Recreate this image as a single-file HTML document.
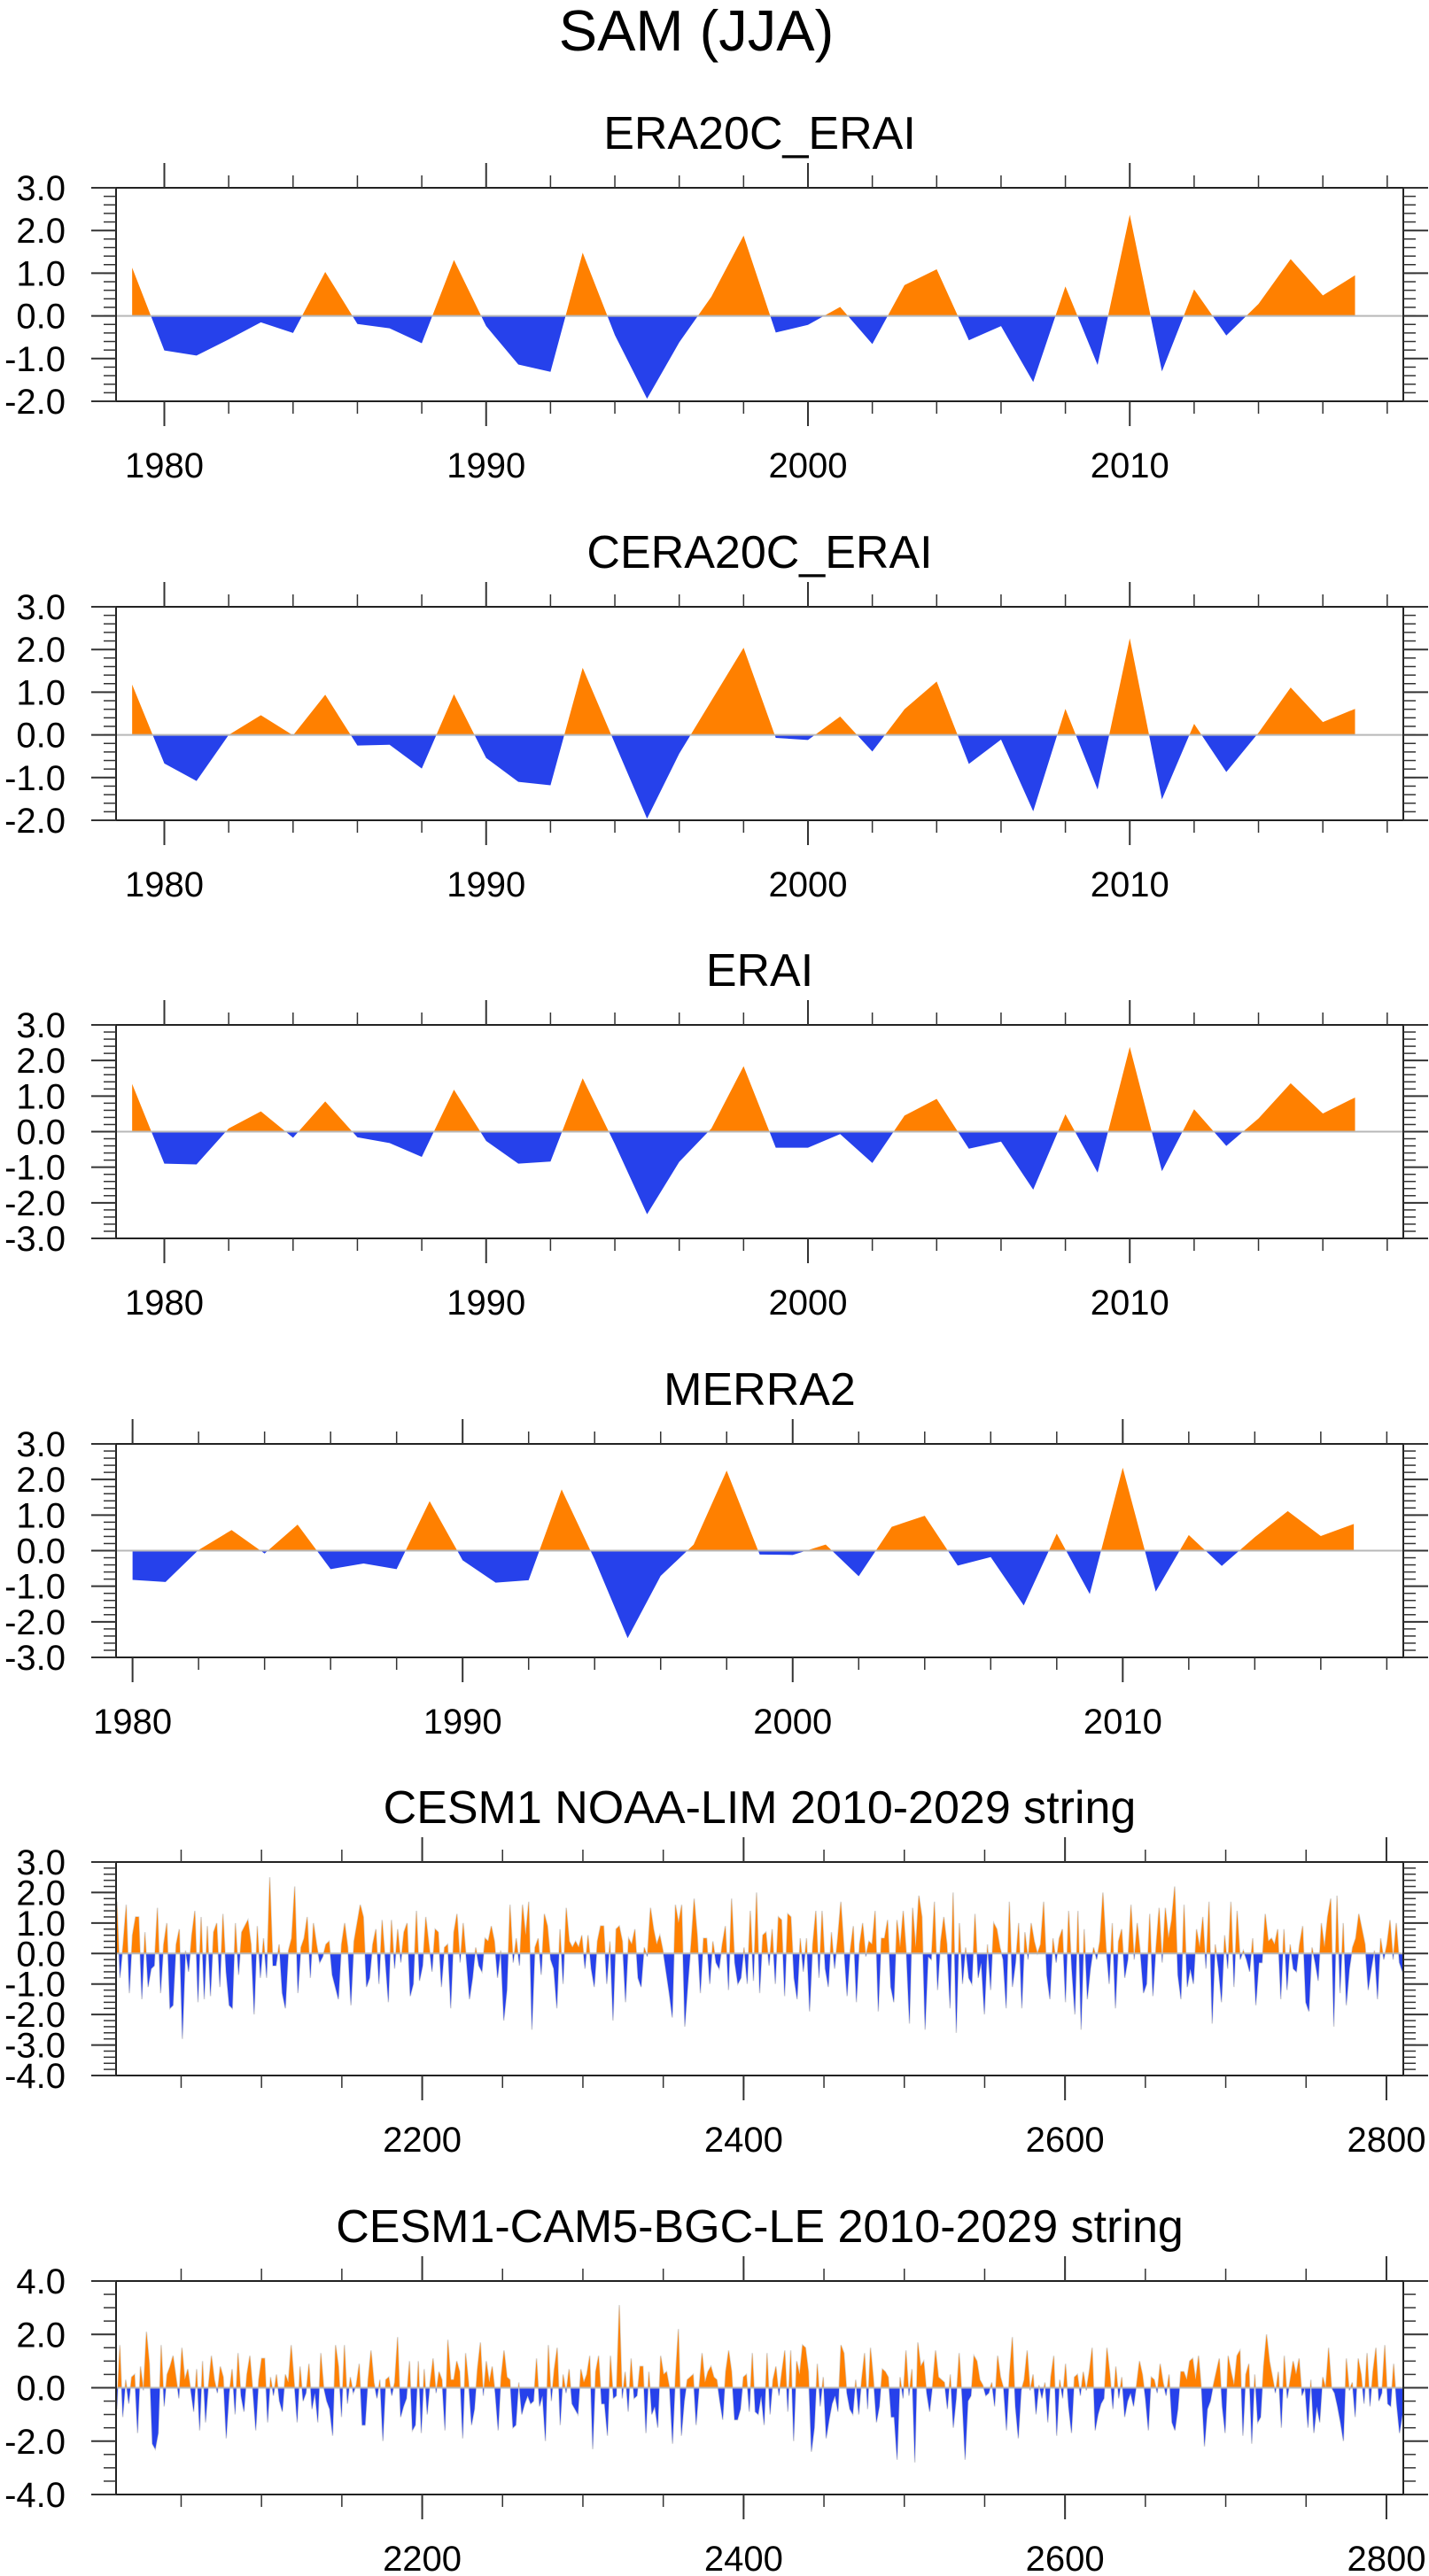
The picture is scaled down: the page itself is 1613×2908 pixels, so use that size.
<!DOCTYPE html>
<html><head><meta charset="utf-8">
<style>
html,body{margin:0;padding:0;background:#fff;}
svg{display:block;font-family:"Liberation Sans",Arial,sans-serif;}
</style></head>
<body>
<svg id="fig" xmlns="http://www.w3.org/2000/svg" width="1613" height="2908" viewBox="0 0 1613 2908">
<rect width="1613" height="2908" fill="#fff"/>
<text x="786" y="57" font-size="65" text-anchor="middle" fill="#000">SAM (JJA)</text>
</svg>
<script>
// ---------- data ----------
const yearsA = Array.from({length:39},(_,i)=>1979+i);
const yearsB = Array.from({length:38},(_,i)=>1980+i);
const era20cVals = [1.13,-0.81,-0.93,-0.55,-0.15,-0.40,1.03,-0.19,-0.29,-0.64,1.31,-0.24,-1.14,-1.31,1.48,-0.45,-1.94,-0.62,0.45,1.88,-0.39,-0.21,0.21,-0.66,0.72,1.09,-0.57,-0.24,-1.55,0.69,-1.15,2.37,-1.30,0.62,-0.46,0.28,1.33,0.48,0.95];
const cera20cVals = [1.18,-0.67,-1.08,0.0,0.46,-0.01,0.94,-0.25,-0.23,-0.79,0.95,-0.54,-1.10,-1.18,1.57,-0.2,-1.96,-0.44,0.8,2.04,-0.07,-0.12,0.43,-0.39,0.6,1.25,-0.68,-0.11,-1.79,0.61,-1.28,2.26,-1.51,0.26,-0.87,0.05,1.11,0.30,0.61];
const eraiVals = [1.34,-0.90,-0.92,0.09,0.57,-0.17,0.85,-0.16,-0.32,-0.71,1.18,-0.26,-0.90,-0.84,1.50,-0.35,-2.32,-0.85,0.09,1.84,-0.45,-0.45,-0.07,-0.88,0.45,0.92,-0.48,-0.28,-1.63,0.49,-1.15,2.38,-1.11,0.63,-0.40,0.37,1.36,0.51,0.96];
const merra2Vals = [-0.82,-0.88,0.02,0.58,-0.08,0.73,-0.52,-0.36,-0.52,1.39,-0.27,-0.90,-0.83,1.72,-0.25,-2.46,-0.71,0.17,2.25,-0.11,-0.12,0.17,-0.72,0.67,0.98,-0.42,-0.18,-1.54,0.48,-1.22,2.33,-1.15,0.44,-0.43,0.38,1.11,0.41,0.75];
const limVals = [1.7,-0.8,0.3,1.6,-1.3,0.6,1.2,1.2,-1.5,0.7,-1.1,-0.5,-0.4,1.5,-1.3,0.3,1.0,-1.8,-1.7,0.3,0.8,-2.8,0.1,-0.6,0.6,1.4,-1.6,1.2,-1.5,0.9,-1.4,0.7,1.0,-1.1,1.3,-0.6,-1.7,-1.8,1.0,-0.7,0.7,0.9,1.1,0.3,-2.0,0.9,-0.8,0.5,-0.8,2.5,-0.4,-0.4,0.3,-1.3,-1.8,0.1,0.5,2.2,-1.3,0.2,0.5,1.2,-0.8,1.0,0.3,-0.3,-0.1,0.3,0.4,-0.7,-1.1,-1.5,0.3,1.0,0.2,-1.7,0.4,1.0,1.6,1.2,-1.1,-0.8,0.3,0.8,-1.0,1.1,-0.2,-1.6,1.1,-0.5,0.8,-0.3,0.7,1.0,-1.4,-1.0,1.4,-0.9,-0.4,1.2,0.3,-0.6,0.8,0.7,-1.1,0.2,0.3,-1.8,0.7,1.3,-0.3,1.0,-0.2,-1.5,-0.8,0.2,-0.4,-0.6,0.5,0.4,0.9,0.4,-0.8,0.1,-2.2,-1.2,1.6,-0.3,0.5,-0.4,1.6,0.6,1.7,-2.5,0.2,0.5,-0.7,1.3,0.9,-0.2,-0.5,-1.8,0.8,-1.0,1.5,0.4,0.2,0.4,0.2,0.6,-0.5,0.6,-0.5,-1.1,0.4,0.9,0.9,-1.0,0.4,-2.2,0.8,0.9,0.4,-1.6,0.5,0.3,0.8,-0.8,-1.1,0.2,-0.1,1.5,0.8,0.3,0.6,0.1,-0.6,-1.3,-2.1,1.6,1.0,1.6,-2.4,-1.0,0.3,1.8,0.6,-1.3,0.5,0.5,-1.0,0.4,-0.3,-0.5,0.3,0.9,-1.2,1.8,-0.3,-1.0,-0.8,
0.2,-1.0,1.4,-0.9,2.0,-1.3,0.6,0.7,-0.4,0.8,-1.0,1.2,1.1,-1.4,1.3,1.2,-0.8,-1.5,0.5,-0.6,0.5,-1.9,0.3,1.4,-0.8,1.4,-0.5,-1.1,0.7,-0.5,0.5,1.7,0.2,-1.4,0.1,0.9,-1.6,0.3,1.0,-0.1,0.4,0.3,1.4,-1.9,0.5,0.5,1.1,-1.1,-1.6,1.1,0.2,1.4,0.0,-2.3,1.5,0.2,1.9,1.2,-2.5,-0.1,-0.2,1.7,-1.2,0.4,1.2,0.3,-1.8,2.0,-2.6,1.0,-1.0,0.2,-0.8,-1.0,1.3,-0.8,-0.3,-2.0,0.3,-1.2,1.0,0.8,0.2,-0.2,-1.8,1.7,-1.1,-0.3,1.0,-1.8,0.7,-0.2,1.0,0.4,0.0,0.3,1.7,-0.7,-1.5,0.5,-0.3,0.5,0.8,-1.6,1.4,-0.5,-2.0,1.4,-2.5,0.8,-1.5,-0.5,0.2,-0.2,0.4,2.0,0.2,-1.0,1.0,-1.8,0.4,0.8,-0.8,-0.2,1.6,-0.2,1.0,0.0,-1.3,-1.0,1.3,-1.4,0.2,1.5,-0.3,1.5,0.5,1.1,2.2,-0.7,-1.5,1.6,-1.1,-0.5,-1.0,0.8,0.2,1.2,-0.5,1.7,-2.3,0.3,-0.5,-1.6,0.6,-0.5,1.7,-1.1,1.4,-0.2,0.1,-0.2,-0.6,0.5,-1.7,-0.3,-0.3,1.3,0.4,0.5,0.3,0.8,-1.5,0.8,-1.2,0.3,-0.5,-0.6,0.3,0.9,-1.6,-1.9,0.2,-0.3,-0.9,1.0,0.2,1.2,1.8,-2.4,1.9,-1.3,1.0,-1.7,-0.5,0.2,0.5,1.3,0.8,0.3,-1.2,-0.5,0.1,-1.5,0.5,-0.2,0.3,1.1,-0.2,1.0,-0.3,-0.6];
const bgcVals = [-0.8,1.6,-1.1,0.3,-0.6,0.4,0.5,-1.7,0.8,-0.1,2.1,0.9,-2.1,-2.3,-1.7,1.6,-0.7,0.5,0.8,1.2,0.4,-0.4,1.5,0.3,0.7,-0.1,-0.9,0.7,-1.6,1.0,-1.3,0.1,1.2,0.3,-0.2,0.8,0.4,-1.9,-0.2,0.7,-1.0,1.3,-0.3,-0.9,0.5,1.2,-0.1,-1.6,0.3,1.1,1.1,-1.3,0.4,-0.3,0.5,-0.5,-0.9,0.5,0.2,1.6,0.2,-1.3,0.8,-0.5,-0.2,0.9,-0.8,-0.2,-1.3,1.3,0.0,-0.5,-0.8,-1.8,1.6,0.8,-1.1,1.6,-0.6,0.4,-0.2,0.1,0.9,-1.4,-1.4,0.3,1.4,0.2,-0.4,0.3,-2.0,0.3,0.4,-0.3,0.2,1.9,-1.1,-0.7,-0.4,1.0,-1.6,-1.4,1.0,-1.7,0.7,-1.0,0.2,1.1,-0.2,0.6,0.3,-1.6,1.8,0.3,0.3,1.0,0.6,-1.9,1.3,0.2,-1.4,-0.8,0.7,1.7,-0.3,1.0,0.2,0.8,-0.2,-1.6,0.4,1.4,0.4,0.3,-1.5,-1.4,0.2,-1.0,-0.6,-0.3,-0.6,-0.5,1.1,-0.7,-0.3,-2.0,1.6,-0.5,0.7,1.5,-1.4,0.5,-0.2,0.7,-0.6,-0.8,-1.0,0.7,0.2,0.5,1.2,-2.3,0.6,1.2,-0.6,-0.6,-1.8,1.2,-0.4,-0.3,3.1,-0.4,0.6,-0.9,1.1,-0.4,-0.3,0.8,0.8,-1.7,0.6,-1.0,-0.7,-1.5,1.2,0.5,0.6,0.0,-2.1,0.4,2.2,-1.8,-0.5,0.3,0.4,0.5,-1.4,0.0,1.3,0.2,0.6,0.8,0.4,0.3,-0.5,-1.2,0.6,1.4,0.6,-1.2,-1.2,-0.8,0.4,0.5,-0.9,
1.3,-0.9,-1.0,-0.3,-1.4,1.3,-1.0,0.3,0.8,-0.3,0.6,1.4,-0.9,1.4,-2.0,1.0,0.5,1.6,1.5,0.6,-2.4,-1.5,0.9,-0.7,0.4,-1.9,-1.2,-0.6,-0.3,-0.9,1.6,1.3,-0.2,-0.8,-1.0,0.3,-1.0,0.3,1.3,-0.8,1.5,0.3,-1.3,-0.7,0.7,0.6,0.4,-1.1,-1.1,-2.7,0.4,-0.4,1.4,-0.3,0.7,-2.8,1.7,0.8,1.0,-0.2,-0.9,0.1,1.4,0.4,0.3,0.2,-0.8,0.5,-1.5,-0.4,1.3,-0.4,-2.7,-0.5,-0.3,1.2,1.0,0.3,0.1,-0.3,-0.2,0.2,-0.7,1.2,0.4,0.0,-1.6,0.5,1.9,-0.7,-1.9,-0.1,0.3,1.4,-0.1,0.5,-1.0,0.1,-0.4,0.2,-1.3,0.4,1.2,-1.8,0.3,-0.4,0.9,-0.7,-1.7,0.4,0.5,-0.3,0.6,-0.1,0.6,1.5,-1.6,-1.0,-0.6,-0.4,1.5,0.5,-0.8,0.8,-0.4,0.4,-1.1,-0.5,-0.2,-0.7,0.1,1.0,0.5,-0.4,-1.6,0.4,0.3,-0.2,0.9,0.2,-0.3,0.5,-1.3,-1.6,-0.8,0.6,0.6,0.3,1.0,1.1,0.3,1.2,-0.1,-2.2,-0.8,-0.5,0.1,0.6,1.1,-0.7,-1.7,1.2,0.6,0.1,1.2,1.4,-1.8,0.5,0.9,-2.1,0.5,-1.3,-1.1,0.8,2.0,1.0,0.4,-0.2,0.6,-1.5,1.2,-0.4,0.3,1.0,0.5,1.1,-0.3,0.0,-1.5,0.3,-1.7,-0.7,-1.3,0.4,0.0,1.5,0.0,-0.2,-0.7,-1.3,-2.0,1.1,-0.1,0.2,-1.1,1.1,0.5,-0.6,1.3,-0.7,0.6,1.5,-0.5,-0.2,1.6,-0.6,-0.7,0.9,-0.6,-1.7,-1.0];
const yTicks32 = [3,2,1,0,-1,-2];
const yLabels32 = ['3.0','2.0','1.0','0.0','-1.0','-2.0'];
const yTicks33 = [3,2,1,0,-1,-2,-3];
const yLabels33 = ['3.0','2.0','1.0','0.0','-1.0','-2.0','-3.0'];
const yTicks34 = [3,2,1,0,-1,-2,-3,-4];
const yLabels34 = ['3.0','2.0','1.0','0.0','-1.0','-2.0','-3.0','-4.0'];
const yTicks44 = [4,2,0,-2,-4];
const yLabels44 = ['4.0','2.0','0.0','-2.0','-4.0'];
const xTicksYr = [1980,1990,2000,2010];
const xLabelsYr = ['1980','1990','2000','2010'];
const xTicksStr = [2200,2400,2600,2800];
const xLabelsStr = ['2200','2400','2600','2800'];
const titles = ['ERA20C_ERAI','CERA20C_ERAI','ERAI','MERRA2','CESM1 NOAA-LIM 2010-2029 string','CESM1-CAM5-BGC-LE 2010-2029 string'];

// ---------- drawing ----------
const NS='http://www.w3.org/2000/svg';
const svg=document.getElementById('fig');
function el(tag,attrs,parent){const e=document.createElementNS(NS,tag);for(const k in attrs)e.setAttribute(k,attrs[k]);(parent||svg).appendChild(e);return e;}
const L=131,R=1584,PH=241;
const ORANGE='#FF8000',BLUE='#2641EB',TICK='#333';
let clipId=0;

function drawPlot(idx,top,xs,vs,xmin,xmax,ymin,ymax,yTicks,yLabels,yMinor,xTicks,xLabels,xMinor,thin){
  const bottom=top+PH;
  const sx=v=>L+(v-xmin)/(xmax-xmin)*(R-L);
  const sy=v=>top+(ymax-v)/(ymax-ymin)*PH;
  const g=el('g',{});
  
  
  const t=el('text',{x:(L+R)/2,y:top-44,'font-size':52,'text-anchor':'middle',fill:'#000'},g);
  t.textContent=titles[idx];
  
  
  // area
  const y0=sy(0);
  let d='M'+sx(xs[0]).toFixed(2)+','+y0.toFixed(2);
  for(let i=0;i<vs.length;i++){d+=' L'+sx(xs[i]).toFixed(2)+','+sy(vs[i]).toFixed(2);}
  d+=' L'+sx(xs[xs.length-1]).toFixed(2)+','+y0.toFixed(2)+' Z';
  const defs=el('defs',{},g);
  const ca='ca'+(clipId++),cb='cb'+(clipId++);
  const c1=el('clipPath',{id:ca},defs);el('rect',{x:0,y:top-50,width:1613,height:y0-top+50},c1);
  const c2=el('clipPath',{id:cb},defs);el('rect',{x:0,y:y0,width:1613,height:bottom-y0+50},c2);
  if(thin){
    let pl='';for(let i=0;i<vs.length;i++)pl+=sx(xs[i]).toFixed(2)+','+sy(vs[i]).toFixed(2)+' ';
    const ln=el('polyline',{points:pl,fill:'none',stroke:'#d4d4d4','stroke-width':1.5},g);
    
    
  }
  const pa=el('path',{d:d,fill:ORANGE,'clip-path':'url(#'+ca+')'},g);
  
  
  const pb=el('path',{d:d,fill:BLUE,'clip-path':'url(#'+cb+')'},g);
  
  
  const zl=el('line',{x1:L,x2:R,y1:y0,y2:y0,stroke:'#b8b8b8','stroke-width':2},g);
  
  
  const fr=el('rect',{x:L,y:top,width:R-L,height:PH,fill:'none',stroke:'#222','stroke-width':2},g);
  
  
  // y minor ticks
  for(let v=ymin;v<=ymax+1e-9;v+=yMinor){
    const y=sy(v);
    el('line',{x1:L-14,x2:L,y1:y,y2:y,stroke:TICK,'stroke-width':1.5},g);
    el('line',{x1:R,x2:R+14,y1:y,y2:y,stroke:TICK,'stroke-width':1.5},g);
  }
  for(let i=0;i<yTicks.length;i++){
    const y=sy(yTicks[i]);
    el('line',{x1:L-28,x2:L,y1:y,y2:y,stroke:TICK,'stroke-width':2},g);
    el('line',{x1:R,x2:R+28,y1:y,y2:y,stroke:TICK,'stroke-width':2},g);
    const tx=el('text',{x:74,y:y+14,'font-size':40,'text-anchor':'end',fill:'#000'},g);
    tx.textContent=yLabels[i];
    
    
  }
  // x minor ticks
  const start=Math.ceil(xmin/xMinor)*xMinor;
  for(let v=start;v<=xmax;v+=xMinor){
    const x=sx(v);
    el('line',{x1:x,x2:x,y1:top-14,y2:top,stroke:TICK,'stroke-width':1.5},g);
    el('line',{x1:x,x2:x,y1:bottom,y2:bottom+14,stroke:TICK,'stroke-width':1.5},g);
  }
  for(let i=0;i<xTicks.length;i++){
    const x=sx(xTicks[i]);
    el('line',{x1:x,x2:x,y1:top-28,y2:top,stroke:TICK,'stroke-width':2},g);
    el('line',{x1:x,x2:x,y1:bottom,y2:bottom+28,stroke:TICK,'stroke-width':2},g);
    const tx=el('text',{x:x,y:bottom+86,'font-size':40,'text-anchor':'middle',fill:'#000'},g);
    tx.textContent=xLabels[i];
    
    
  }
}
function idxX(n,a,b){return Array.from({length:n},(_,i)=>a+i*(b-a)/(n-1));}

drawPlot(0,212,yearsA,era20cVals,1978.5,2018.5,-2,3,yTicks32,yLabels32,0.2,xTicksYr,xLabelsYr,2,false);
drawPlot(1,685,yearsA,cera20cVals,1978.5,2018.5,-2,3,yTicks32,yLabels32,0.2,xTicksYr,xLabelsYr,2,false);
drawPlot(2,1157,yearsA,eraiVals,1978.5,2018.5,-3,3,yTicks33,yLabels33,0.2,xTicksYr,xLabelsYr,2,false);
drawPlot(3,1630,yearsB,merra2Vals,1979.5,2018.5,-3,3,yTicks33,yLabels33,0.2,xTicksYr,xLabelsYr,2,false);
drawPlot(4,2102,idxX(limVals.length,2010,2810),limVals,2009.5,2810.5,-4,3,yTicks34,yLabels34,0.2,xTicksStr,xLabelsStr,50,true);
drawPlot(5,2575,idxX(bgcVals.length,2010,2810),bgcVals,2009.5,2810.5,-4,4,yTicks44,yLabels44,0.5,xTicksStr,xLabelsStr,50,true);
</script>
</body></html>
